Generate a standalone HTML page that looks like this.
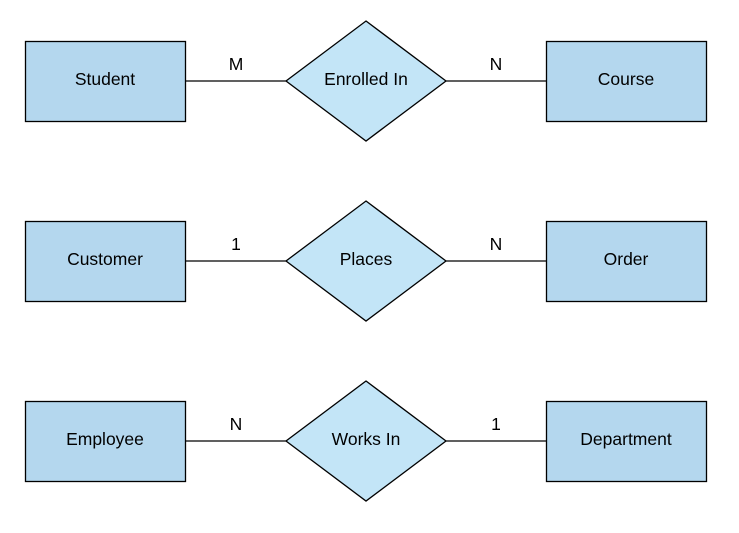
<!DOCTYPE html>
<html><head><style>body{margin:0;background:#fff}</style></head><body>
<svg width="739" height="528" xmlns="http://www.w3.org/2000/svg" font-family="Liberation Sans, sans-serif" font-size="17.5" text-anchor="middle">
<g stroke="#000" stroke-width="1.3">
<line x1="185" y1="81" x2="286" y2="81"/><line x1="446" y1="81" x2="546" y2="81"/>
<rect x="25.5" y="41.5" width="160" height="80" fill="#b4d7ee"/>
<rect x="546.5" y="41.5" width="160" height="80" fill="#b4d7ee"/>
<polygon points="366,21 446,81 366,141 286,81" fill="#c3e5f7"/>
<line x1="185" y1="261" x2="286" y2="261"/><line x1="446" y1="261" x2="546" y2="261"/>
<rect x="25.5" y="221.5" width="160" height="80" fill="#b4d7ee"/>
<rect x="546.5" y="221.5" width="160" height="80" fill="#b4d7ee"/>
<polygon points="366,201 446,261 366,321 286,261" fill="#c3e5f7"/>
<line x1="185" y1="441" x2="286" y2="441"/><line x1="446" y1="441" x2="546" y2="441"/>
<rect x="25.5" y="401.5" width="160" height="80" fill="#b4d7ee"/>
<rect x="546.5" y="401.5" width="160" height="80" fill="#b4d7ee"/>
<polygon points="366,381 446,441 366,501 286,441" fill="#c3e5f7"/>
</g>
<g fill="#000">
<text x="105" y="85">Student</text><text x="366" y="85">Enrolled In</text><text x="626" y="85">Course</text>
<text x="236" y="70">M</text><text x="496" y="70">N</text>
<text x="105" y="265">Customer</text><text x="366" y="265">Places</text><text x="626" y="265">Order</text>
<text x="236" y="250">1</text><text x="496" y="250">N</text>
<text x="105" y="445">Employee</text><text x="366" y="445">Works In</text><text x="626" y="445">Department</text>
<text x="236" y="430">N</text><text x="496" y="430">1</text>
</g>
</svg>
</body></html>
